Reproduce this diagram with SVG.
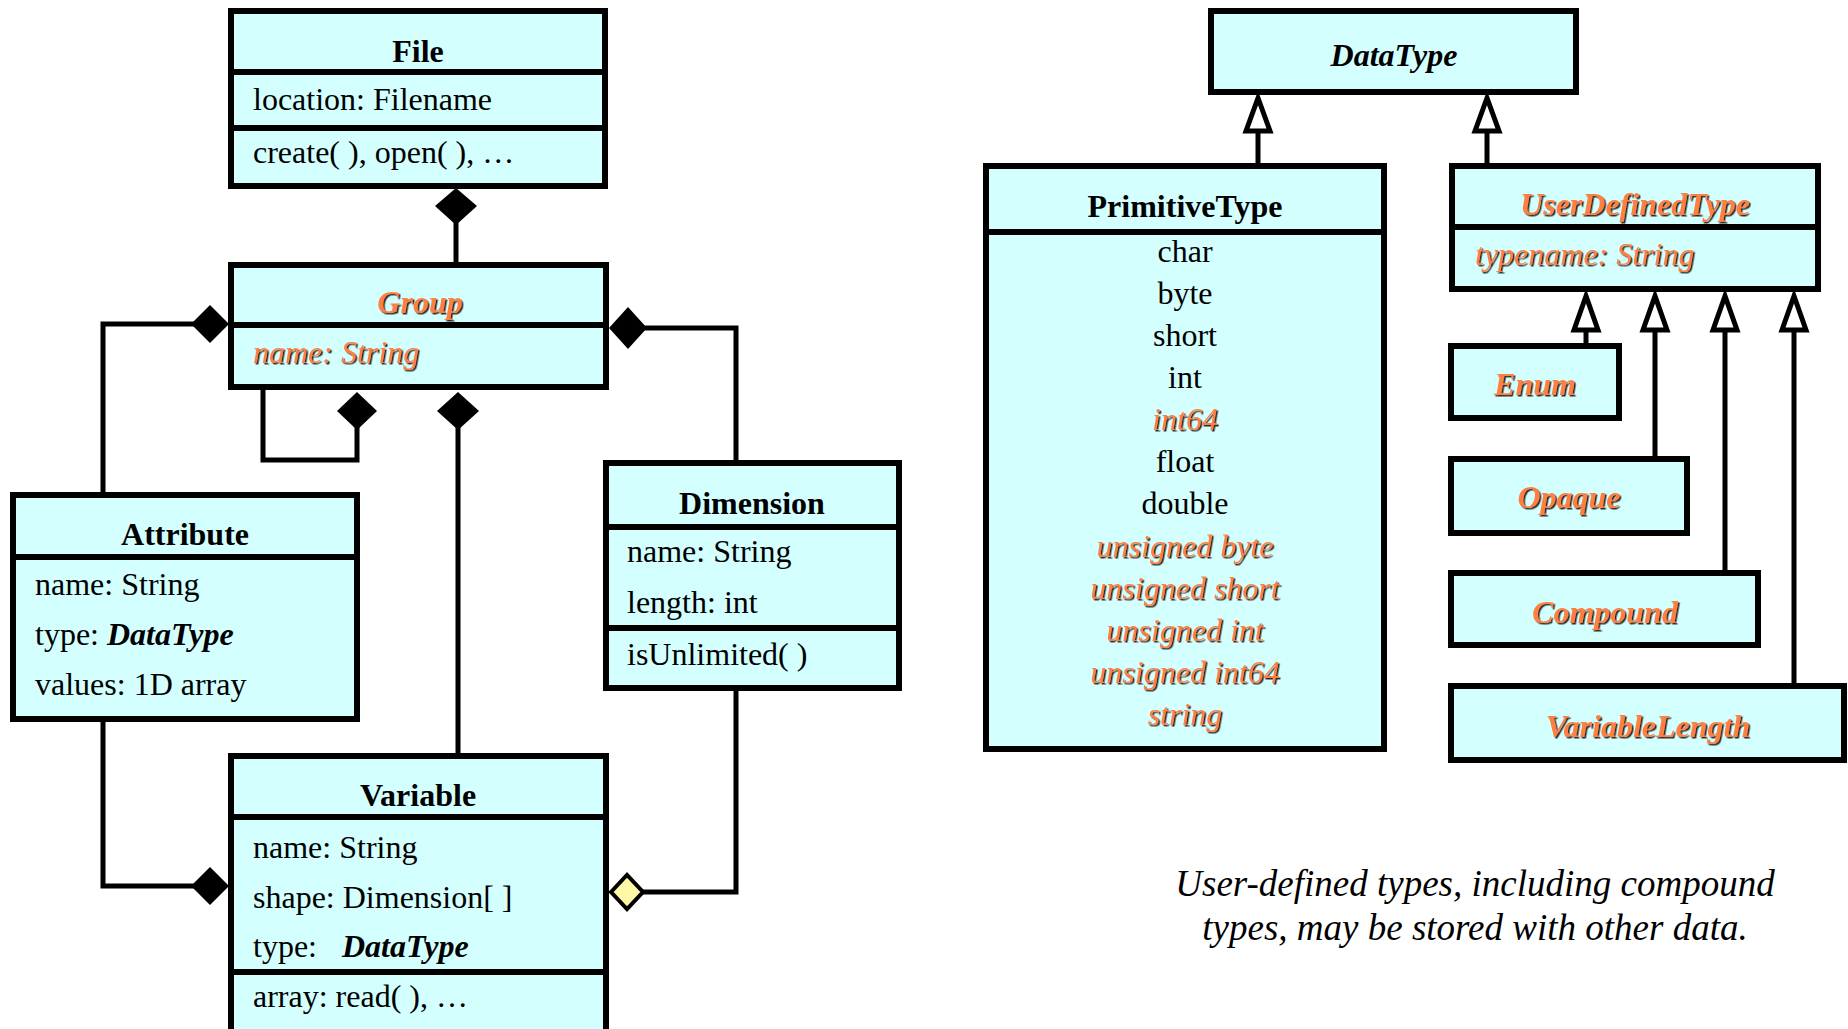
<svg xmlns="http://www.w3.org/2000/svg" width="1848" height="1029" viewBox="0 0 1848 1029">
<defs>
<filter id="sh" x="-5%" y="-20%" width="110%" height="140%">
<feDropShadow dx="1.5" dy="1.5" stdDeviation="0.3" flood-color="#2a2a2a" flood-opacity="1"/>
</filter>
</defs>
<style>
.box{fill:#D4FFFF;stroke:#000;stroke-width:6}
.div{stroke:#000;stroke-width:6}
.ln{fill:none;stroke:#000;stroke-width:5}
.dia{fill:#000;stroke:none}
.ydia{fill:#FFF7A8;stroke:#000;stroke-width:4}
.tri{fill:#fff;stroke:#000;stroke-width:5;stroke-linejoin:miter}
text{font-family:"Liberation Serif","Times New Roman",serif;font-size:32px;fill:#000}
.t{font-weight:bold;text-anchor:middle}
.c{text-anchor:middle}
.bi{font-weight:bold;font-style:italic}
.o{fill:#FF7F3F;filter:url(#sh)}
.i{font-style:italic}
.cap{font-size:37px;font-style:italic;text-anchor:middle}
</style>
<rect width="1848" height="1029" fill="#fff"/>

<g id="connectors">
<!-- File - Group -->
<line class="ln" x1="456" y1="222" x2="456" y2="273"/>
<polygon class="dia" points="456,188 477,206 456,225 435,206"/>
<!-- Group self loop -->
<polyline class="ln" points="263,388 263,460 357,460 357,425"/>
<polygon class="dia" points="357,392 377,411 357,430 337,411"/>
<!-- Group - Variable -->
<line class="ln" x1="458" y1="425" x2="458" y2="760"/>
<polygon class="dia" points="458,392 479,411 458,430 437,411"/>
<!-- Group - Attribute -->
<polyline class="ln" points="195,324 103,324 103,497"/>
<polygon class="dia" points="229,324 210,305 191,324 210,343"/>
<!-- Group - Dimension -->
<polyline class="ln" points="643,328 736,328 736,463"/>
<polygon class="dia" points="609,328 628,307 647,328 628,349"/>
<!-- Attribute - Variable -->
<polyline class="ln" points="103,717 103,886 195,886"/>
<polygon class="dia" points="229,886 210,867 191,886 210,905"/>
<!-- Variable - Dimension -->
<polyline class="ln" points="643,892 736,892 736,688"/>
<polygon class="ydia" points="611,892 627,875 643,892 627,909"/>
<!-- DataType generalizations -->
<line class="ln" x1="1258" y1="131" x2="1258" y2="166"/>
<polygon class="tri" points="1258,98 1246,131 1270,131"/>
<line class="ln" x1="1487" y1="131" x2="1487" y2="166"/>
<polygon class="tri" points="1487,98 1475,131 1499,131"/>
<!-- UserDefinedType generalizations -->
<line class="ln" x1="1586" y1="330" x2="1586" y2="346"/>
<polygon class="tri" points="1586,296 1574,330 1598,330"/>
<line class="ln" x1="1655" y1="330" x2="1655" y2="459"/>
<polygon class="tri" points="1655,296 1643,330 1667,330"/>
<line class="ln" x1="1725" y1="330" x2="1725" y2="573"/>
<polygon class="tri" points="1725,296 1713,330 1737,330"/>
<line class="ln" x1="1794" y1="330" x2="1794" y2="686"/>
<polygon class="tri" points="1794,296 1782,330 1806,330"/>
</g>

<g id="File">
<rect class="box" x="231" y="11" width="374" height="175"/>
<line class="div" x1="231" y1="72" x2="605" y2="72"/>
<line class="div" x1="231" y1="128" x2="605" y2="128"/>
<text class="t" x="418" y="62">File</text>
<text x="253" y="110">location: Filename</text>
<text x="253" y="163">create( ), open( ), …</text>
</g>

<g id="Group">
<rect class="box" x="231" y="265" width="375" height="122"/>
<line class="div" x1="231" y1="325" x2="606" y2="325"/>
<text class="t bi o" x="420" y="313">Group</text>
<text class="i o" x="253" y="363">name: String</text>
</g>

<g id="Attribute">
<rect class="box" x="13" y="495" width="344" height="224"/>
<line class="div" x1="13" y1="557" x2="357" y2="557"/>
<text class="t" x="185" y="545">Attribute</text>
<text x="35" y="595">name: String</text>
<text x="35" y="645">type: <tspan class="bi">DataType</tspan></text>
<text x="35" y="695">values: 1D array</text>
</g>

<g id="Dimension">
<rect class="box" x="606" y="463" width="293" height="225"/>
<line class="div" x1="606" y1="527" x2="899" y2="527"/>
<line class="div" x1="606" y1="628" x2="899" y2="628"/>
<text class="t" x="752" y="514">Dimension</text>
<text x="627" y="562">name: String</text>
<text x="627" y="613">length: int</text>
<text x="627" y="665">isUnlimited( )</text>
</g>

<g id="Variable">
<rect class="box" x="231" y="756" width="375" height="290"/>
<line class="div" x1="231" y1="817" x2="606" y2="817"/>
<line class="div" x1="231" y1="972" x2="606" y2="972"/>
<text class="t" x="418" y="806">Variable</text>
<text x="253" y="858">name: String</text>
<text x="253" y="908">shape: Dimension[ ]</text>
<text x="253" y="957">type:</text>
<text class="bi" x="342" y="957">DataType</text>
<text x="253" y="1007">array: read( ), …</text>
</g>

<g id="DataType">
<rect class="box" x="1211" y="11" width="365" height="81"/>
<text class="t bi" x="1394" y="66">DataType</text>
</g>

<g id="PrimitiveType">
<rect class="box" x="986" y="166" width="398" height="583"/>
<line class="div" x1="986" y1="232" x2="1384" y2="232"/>
<text class="t" x="1185" y="217">PrimitiveType</text>
<text class="c" x="1185" y="262">char</text>
<text class="c" x="1185" y="304">byte</text>
<text class="c" x="1185" y="346">short</text>
<text class="c" x="1185" y="388">int</text>
<text class="c i o" x="1185" y="430">int64</text>
<text class="c" x="1185" y="472">float</text>
<text class="c" x="1185" y="514">double</text>
<text class="c i o" x="1185" y="557">unsigned byte</text>
<text class="c i o" x="1185" y="599">unsigned short</text>
<text class="c i o" x="1185" y="641">unsigned int</text>
<text class="c i o" x="1185" y="683">unsigned int64</text>
<text class="c i o" x="1185" y="725">string</text>
</g>

<g id="UserDefinedType">
<rect class="box" x="1452" y="166" width="366" height="123"/>
<line class="div" x1="1452" y1="227" x2="1818" y2="227"/>
<text class="t bi o" x="1635" y="215">UserDefinedType</text>
<text class="i o" x="1475" y="265">typename: String</text>
</g>

<g id="Enum">
<rect class="box" x="1451" y="346" width="168" height="72"/>
<text class="t bi o" x="1535" y="395">Enum</text>
</g>

<g id="Opaque">
<rect class="box" x="1451" y="459" width="236" height="74"/>
<text class="t bi o" x="1569" y="508">Opaque</text>
</g>

<g id="Compound">
<rect class="box" x="1451" y="573" width="307" height="72"/>
<text class="t bi o" x="1605" y="623">Compound</text>
</g>

<g id="VariableLength">
<rect class="box" x="1451" y="686" width="393" height="74"/>
<text class="t bi o" x="1648" y="737">VariableLength</text>
</g>

<g id="caption">
<text class="cap" x="1475" y="896">User-defined types, including compound</text>
<text class="cap" x="1475" y="940">types, may be stored with other data.</text>
</g>
</svg>
